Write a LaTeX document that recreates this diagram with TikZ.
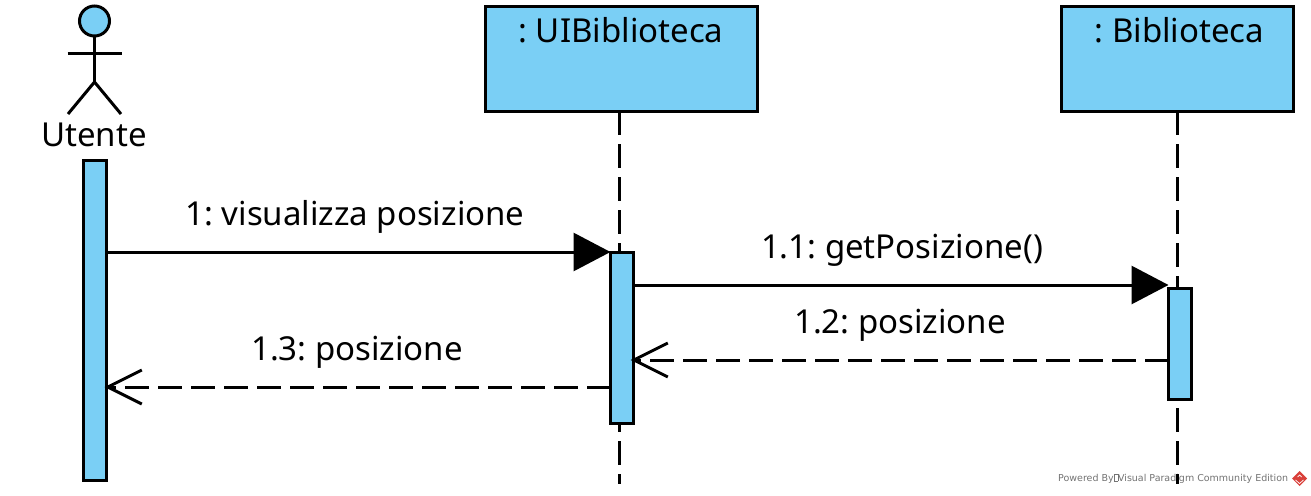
\documentclass[tikz,border=0pt]{standalone}
\usepackage{fontspec}
\setmainfont{Noto Sans}
\newfontfamily\footfont{DejaVu Sans}
\usetikzlibrary{arrows.meta}
\definecolor{vpblue}{HTML}{7ACFF5}
\definecolor{vpred}{HTML}{D9403A}
\frenchspacing
\tikzset{
  ln/.style={line width=3pt,draw=black},
  classbox/.style={ln,fill=vpblue,rectangle,inner sep=0pt,outer sep=0pt,anchor=north west},
  actbar/.style={ln,fill=vpblue,rectangle,inner sep=0pt,outer sep=0pt,minimum width=23pt,anchor=north west},
  lifeline/.style={ln,dash pattern=on 24pt off 9pt},
  msg/.style={ln,-{Triangle[length=37pt,width=38pt]}},
  reply/.style={ln,dash pattern=on 24pt off 9pt,shorten >=-1.5pt,-{Straight Barb[length=34pt,width=34pt]}},
  lbl/.style={font=\frenchspacing\fontsize{33}{38}\selectfont,inner sep=0pt,text=black}
}
\begin{document}
\begin{tikzpicture}[x=1pt,y=-1pt]
\useasboundingbox (0,0) rectangle (1311,495);
% footer
\node[anchor=west,inner sep=0pt,text=black!55,font=\footfont\fontsize{9.5}{12}\selectfont] (foot) at (1058,478.5)
  {Powered By\setlength\fboxsep{0pt}\setlength\fboxrule{.4pt}\fbox{\rule{3.5pt}{0pt}\rule{0pt}{6.5pt}}Visual Paradigm Community Edition};
\fill[vpred] (1299.5,471) -- (1307,478.5) -- (1299.5,486) -- (1292,478.5) -- cycle;
\draw[white,line width=.7pt] (1295.5,480) -- (1299.5,483.5) -- (1303.5,480);
\draw[white,line width=.7pt] (1297.5,477) -- (1299.5,475) -- (1301.5,477);
% actor
\node[circle,ln,fill=vpblue,outer sep=0pt,minimum size=30pt,inner sep=0pt] (head) at (94.5,21) {};
\coordinate (hip) at (94.5,82);
\coordinate (larm) at (67.5,54);
\coordinate (rarm) at (121.5,54);
\coordinate (lleg) at (68,114);
\coordinate (rleg) at (121,114);
\draw[ln] (head.south) -- (hip);
\draw[ln] (larm) -- (rarm);
\draw[ln] (lleg) -- (hip) -- (rleg);
\node[lbl] (utente) at (94,135) {Utente};
% class boxes
\node[classbox,minimum width=272pt,minimum height=104pt] (ui) at (485,7) {};
\node[classbox,minimum width=232pt,minimum height=104pt] (bib) at (1061,7) {};
\node[lbl] (uil) at (621,30.5) {: UIBiblioteca};
\node[lbl] (bibl) at (1179.5,30.5) {: Biblioteca};
% lifeline ends
\coordinate (uiend) at (619,484);
\coordinate (bibend) at (1177,484);
\draw[lifeline] (619,111) -- (uiend);
\draw[lifeline] (1177,111) -- (bibend);
% activations
\node[actbar,minimum height=320pt] (a1) at (83,160) {};
\node[actbar,minimum height=171pt] (a2) at (610.5,252) {};
\node[actbar,minimum height=111pt] (a3) at (1168.5,288) {};
% messages
\coordinate (m1) at (0,252);
\coordinate (m2) at (0,285);
\coordinate (m3) at (0,360);
\coordinate (m4) at (0,387);
\draw[msg] (a1.east |- m1) -- (a2.north west);
\draw[msg] (632,285) -- (a3.north west |- m2);
\draw[reply] (a3.west |- m3) -- (632,360);
\draw[reply] (a2.west |- m4) -- (a1.east |- m4);
\node[lbl] (l1) at (355,217) {1: visualizza posizione};
\node[lbl] (l2) at (902,250) {1.1: getPosizione()};
\node[lbl] (l3) at (900,325) {1.2: posizione};
\node[lbl] (l4) at (357,352) {1.3: posizione};
\end{tikzpicture}
\end{document}
